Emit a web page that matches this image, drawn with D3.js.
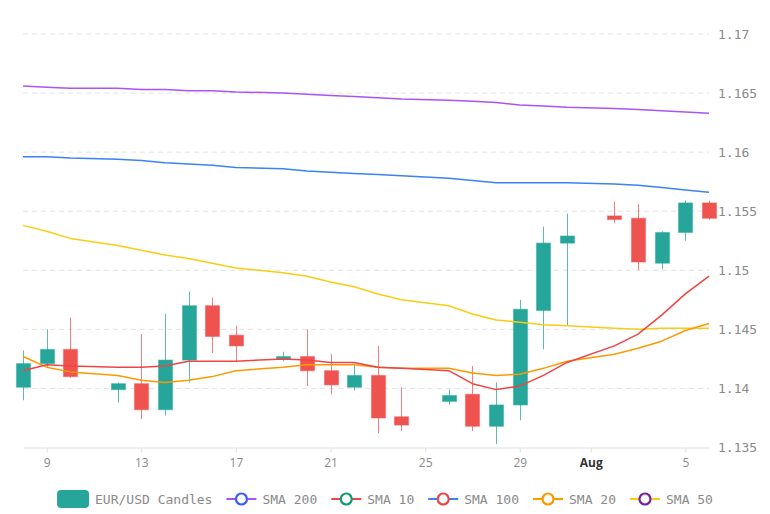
<!DOCTYPE html>
<html>
<head>
<meta charset="utf-8">
<script src="https://cdn.jsdelivr.net/npm/d3@7/dist/d3.min.js"></script>
<style>
  html, body { margin: 0; padding: 0; background: #fff; }
  svg { display: block; }
</style>
</head>
<body>
<svg id="chart" width="770" height="514"></svg>
<script>
// ---- Data ----
const dates = ["2025-07-08","2025-07-09","2025-07-10","2025-07-12","2025-07-13","2025-07-14","2025-07-15","2025-07-16","2025-07-17","2025-07-19","2025-07-20","2025-07-21","2025-07-22","2025-07-23","2025-07-24","2025-07-26","2025-07-27","2025-07-28","2025-07-29","2025-07-30","2025-07-31","2025-08-02","2025-08-03","2025-08-04","2025-08-05","2025-08-06"];
const open  = [1.1401,1.1421,1.1433,1.1399,1.1404,1.1382,1.1424,1.1470,1.1445,1.1425,1.1427,1.1415,1.1401,1.1411,1.1376,1.1389,1.1395,1.1368,1.1386,1.1466,1.1523,1.1546,1.1544,1.1506,1.1532,1.1557];
const high  = [1.1432,1.1450,1.1460,1.1405,1.1446,1.1463,1.1482,1.1477,1.1453,1.1431,1.1450,1.1429,1.1421,1.1436,1.1401,1.1399,1.1419,1.1405,1.1475,1.1537,1.1548,1.1558,1.1556,1.1533,1.1559,1.1559];
const low   = [1.1390,1.1418,1.1409,1.1388,1.1374,1.1377,1.1405,1.1430,1.1423,1.1423,1.1402,1.1395,1.1398,1.1362,1.1364,1.1386,1.1364,1.1353,1.1373,1.1433,1.1453,1.1540,1.1500,1.1501,1.1525,1.1543];
const close = [1.1421,1.1433,1.1410,1.1404,1.1382,1.1424,1.1470,1.1444,1.1436,1.1427,1.1415,1.1403,1.1411,1.1375,1.1369,1.1394,1.1368,1.1386,1.1467,1.1523,1.1529,1.1543,1.1507,1.1532,1.1557,1.1544];

const sma200 = [1.1656,1.1655,1.1654,1.1654,1.1653,1.1653,1.1652,1.1652,1.1651,1.1650,1.1649,1.1648,1.1647,1.1646,1.1645,1.1644,1.1643,1.1642,1.1640,1.1639,1.1638,1.1637,1.1636,1.1635,1.1634,1.1633];
const sma100 = [1.1596,1.1596,1.1595,1.1594,1.1593,1.1591,1.1590,1.1589,1.1587,1.1586,1.1584,1.1583,1.1582,1.1581,1.1580,1.1578,1.1576,1.1574,1.1574,1.1574,1.1574,1.1573,1.1572,1.1570,1.1568,1.1566];
const sma50  = [1.1538,1.1533,1.1527,1.1521,1.1517,1.1513,1.1510,1.1506,1.1502,1.1498,1.1495,1.1490,1.1486,1.1480,1.1475,1.1470,1.1463,1.1458,1.1456,1.1454,1.1453,1.1451,1.1450,1.1451,1.1451,1.1451];
const sma20  = [1.1427,1.1418,1.1414,1.1411,1.1407,1.1405,1.1407,1.1410,1.1415,1.1418,1.1420,1.1420,1.1420,1.1418,1.1417,1.1417,1.1413,1.1411,1.1412,1.1417,1.1423,1.1429,1.1434,1.1440,1.1449,1.1455];
const sma10  = [1.1415,1.1420,1.1419,1.1418,1.1418,1.1419,1.1423,1.1423,1.1423,1.1425,1.1424,1.1422,1.1422,1.1418,1.1417,1.1415,1.1404,1.1399,1.1402,1.1411,1.1422,1.1436,1.1446,1.1462,1.1480,1.1495];

const yTicks = [1.135,1.14,1.145,1.15,1.155,1.16,1.165,1.17];
const yTickLabels = ["1.135","1.14","1.145","1.15","1.155","1.16","1.165","1.17"];
const xTickDates = ["2025-07-09","2025-07-13","2025-07-17","2025-07-21","2025-07-25","2025-07-29","2025-08-01","2025-08-05"];
const xTickLabels = ["9","13","17","21","25","29","Aug","5"];
const xTickBold = [false,false,false,false,false,false,true,false];

const seriesNames = ["SMA 200","SMA 10","SMA 100","SMA 20","SMA 50"];
const candleName = "EUR/USD Candles";

(function(){
// ---- Styles ----
const upColor = "#26a69a", downColor = "#ef5350";
const lineColors = {"SMA 200":"#a855f7","SMA 10":"#ef4444","SMA 100":"#3b82f6","SMA 20":"#ff9800","SMA 50":"#facc15"};
const markerColors = {"SMA 200":"#3d5afe","SMA 10":"#0f9b76","SMA 100":"#ef4444","SMA 20":"#ff9800","SMA 50":"#7b1fa2"};
const seriesData = {"SMA 200":sma200,"SMA 10":sma10,"SMA 100":sma100,"SMA 20":sma20,"SMA 50":sma50};

const parse = d3.utcParse("%Y-%m-%d");
const t = dates.map(parse);
const candles = t.map((d,i)=>({date:d,o:open[i],h:high[i],l:low[i],c:close[i]}));

const pLeft = 23, pRight = 709, pTop = 34, pBottom = 447.5;
const svg = d3.select("#chart");

const x = d3.scaleUtc().domain([t[0], t[t.length-1]]).range([pLeft, pRight]);
const y = d3.scaleLinear().domain([1.135, 1.17]).range([pBottom, pTop]);

// grid
svg.append("g").selectAll("line").data(yTicks.slice(1)).join("line")
  .attr("x1", pLeft).attr("x2", pRight)
  .attr("y1", d=>y(d)).attr("y2", d=>y(d))
  .attr("stroke", "#e3e3e3").attr("stroke-width", 1).attr("stroke-dasharray", "5,4");

// y axis (right, labels only)
const yAxis = d3.axisRight(y).tickValues(yTicks).tickFormat((d,i)=>yTickLabels[i]).tickSize(0).tickPadding(0);
const gy = svg.append("g").attr("transform", `translate(${pRight+9},0)`).call(yAxis);
gy.select(".domain").remove();
gy.selectAll("text").attr("font-family","'DejaVu Sans Mono', monospace").attr("font-size", 13).attr("fill", "#8a8a8a");

// x axis
const xAxis = d3.axisBottom(x).tickValues(xTickDates.map(parse)).tickFormat((d,i)=>xTickLabels[i]).tickSize(5).tickSizeOuter(0).tickPadding(6);
const gx = svg.append("g").attr("transform", `translate(0,${pBottom})`).call(xAxis);
gx.select(".domain").attr("stroke", "#e0e0e0").attr("stroke-width", 1.2);
gx.selectAll(".tick line").attr("stroke", "#e0e0e0");
gx.selectAll(".tick text")
  .attr("font-family", "'Open Sans', sans-serif").attr("font-size", 12)
  .attr("fill", (d,i)=> xTickBold[i] ? "#333" : "#8a8a8a")
  .attr("font-weight", (d,i)=> xTickBold[i] ? "bold" : "normal");

// candles
const bw = 14;
const cg = svg.append("g");
cg.selectAll("line.wick").data(candles).join("line").attr("class","wick")
  .attr("x1", d=>Math.round(x(d.date))+0.5).attr("x2", d=>Math.round(x(d.date))+0.5)
  .attr("y1", d=>y(d.h)).attr("y2", d=>y(d.l))
  .attr("stroke", d=> d.c>=d.o ? upColor : downColor).attr("stroke-opacity", 0.75).attr("stroke-width", 1);
cg.selectAll("rect.body").data(candles).join("rect").attr("class","body")
  .attr("x", d=>Math.round(x(d.date))+0.5-bw/2)
  .attr("width", bw)
  .attr("y", d=>y(Math.max(d.o,d.c)))
  .attr("height", d=>Math.max(1.5, Math.abs(y(d.o)-y(d.c))))
  .attr("fill", d=> d.c>=d.o ? upColor : downColor)
  .attr("stroke", d=> d.c>=d.o ? upColor : downColor).attr("stroke-opacity", 0.45).attr("stroke-width", 1.2);

// SMA lines
const line = d3.line().x((d,i)=>x(t[i])).y(d=>y(d));
["SMA 200","SMA 100","SMA 50","SMA 20","SMA 10"].forEach(name=>{
  svg.append("path").datum(seriesData[name]).attr("d", line)
    .attr("fill","none").attr("stroke", lineColors[name]).attr("stroke-width", 1.5)
    .attr("stroke-linejoin","round");
});

// legend
const lg = svg.append("g");
const ly = 499;
const font = "'DejaVu Sans Mono', monospace";
const items = [{name:candleName, type:"candle"}].concat(seriesNames.map(n=>({name:n,type:"line"})));
const parts = [];
items.forEach((it)=>{
  const g = lg.append("g");
  const iconW = it.type==="candle" ? 32 : 30;
  if (it.type==="candle") {
    g.append("rect").attr("x",0).attr("y",ly-9).attr("width",iconW).attr("height",18).attr("rx",4).attr("fill",upColor);
  } else {
    g.append("line").attr("x1",0).attr("x2",iconW).attr("y1",ly).attr("y2",ly).attr("stroke",lineColors[it.name]).attr("stroke-width",2);
    g.append("circle").attr("cx",iconW/2).attr("cy",ly).attr("r",5.5).attr("fill","#fff").attr("stroke",markerColors[it.name]).attr("stroke-width",2.2);
  }
  const txt = g.append("text").attr("x", iconW+6).attr("y", ly).attr("dy","0.35em")
    .attr("font-family", font).attr("font-size", 13).attr("fill", "#8a8a8a").text(it.name);
  const w = iconW + 6 + txt.node().getComputedTextLength();
  parts.push({g, w});
});
const gap = 14;
const total = d3.sum(parts, p=>p.w) + gap*(parts.length-1);
let pos = (770 - total)/2;
parts.forEach(p=>{ p.g.attr("transform", `translate(${pos},0)`); pos += p.w + gap; });
})();
</script>
</body>
</html>
